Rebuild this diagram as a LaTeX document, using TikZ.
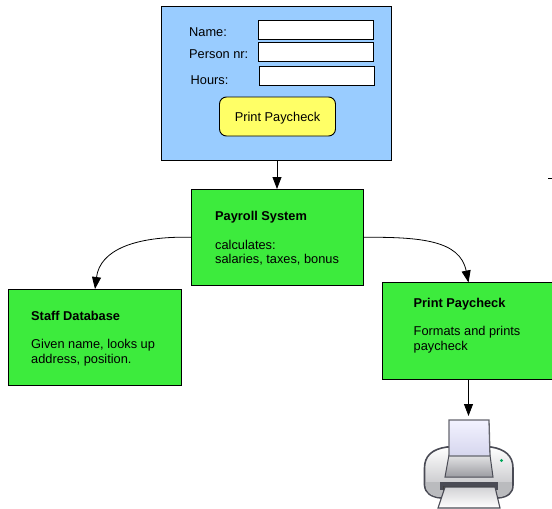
\documentclass[tikz,border=0pt]{standalone}
\usepackage{fontspec}
\setmainfont{Liberation Sans}
\usetikzlibrary{positioning,arrows.meta}
\definecolor{formblue}{HTML}{99CCFF}
\definecolor{boxgreen}{HTML}{3DEB3D}
\definecolor{btnyellow}{HTML}{FFFF66}
\definecolor{printergrey}{HTML}{4A4B55}
\tikzset{
  plainbox/.style={draw=black,line width=0.9pt,anchor=north west,inner sep=0pt,outer sep=0pt},
  formbox/.style={plainbox,fill=formblue,minimum width=230.5pt,minimum height=154pt},
  field/.style={plainbox,fill=white,minimum width=115.5pt,minimum height=19.5pt},
  btn/.style={plainbox,fill=btnyellow,rounded corners=7pt,minimum width=116pt,minimum height=39pt,anchor=center},
  compbox/.style={plainbox,fill=boxgreen,minimum height=96.5pt},
  lbl/.style={font=\fontsize{12.8}{14}\selectfont,inner sep=0pt},
  boxtext/.style={lbl,anchor=north west,align=left,font=\fontsize{12.8}{14.2}\selectfont},
  flow/.style={-{Triangle[length=12pt,width=9pt]},line width=0.8pt},
}
\begin{document}
\begin{tikzpicture}[x=1pt,y=-1pt]
  \useasboundingbox (0,0) rectangle (552,509);

  \node[formbox] (form) at (161,6.5) {};
  \node[field] (namefield) at (258,20) {};
  \node[field] (personfield) at (258,42) {};
  \node[field] (hoursfield) at (259,66) {};
  \node[lbl,anchor=west] (namelbl) at (189,32) {Name:};
  \node[lbl,anchor=west] (personlbl) at (189,54.5) {Person nr:};
  \node[lbl,anchor=west] (hourslbl) at (190.5,80) {Hours:};
  \node[btn] (printbtn) at (277.5,116.5) {\rule{0pt}{13pt}\fontsize{12.8}{14}\selectfont Print Paycheck};

  \node[compbox,minimum width=172.5pt] (payroll) at (191,189) {};
  \node[compbox,minimum width=173.5pt] (staff) at (8,289) {};
  \node[compbox,minimum width=176pt] (paybox) at (382,282.5) {};

  \node[boxtext,below right=22.5pt and 24pt of payroll.north west] (payrolltxt)
    {\textbf{Payroll System}\\[14.2pt]calculates:\\salaries, taxes, bonus};
  \node[boxtext,below right=22pt and 23pt of staff.north west] (stafftxt)
    {\textbf{Staff Database}\\[14.2pt]Given name, looks up\\address, position.};
  \node[boxtext,below right=15.5pt and 31.5pt of paybox.north west] (paytxt)
    {\textbf{Print Paycheck}\\[14.2pt]Formats and prints\\paycheck};

  \coordinate (printertop) at (468.5,416);
  \coordinate (tick) at (548,178);

  \draw[flow] (form.south -| 277,0) -- (payroll.north -| 277,0);
  \draw[flow] (payroll.west) .. controls (135,236) and (100,250) .. (staff.north -| 95,0);
  \draw[flow] (payroll.east) .. controls (420,237) and (460,240) .. (paybox.north -| 468.5,0);
  \draw[flow] (paybox.south -| 468.5,0) -- (printertop);
  \draw[line width=0.9pt] (tick) -- ++(5,0);

  % printer
  \draw[printergrey,line width=1.6pt,top color=white,bottom color=white!60!printergrey]
    (447,447) .. controls (432,449) and (424.5,456) .. (424.5,468)
    -- (424.5,485) .. controls (425,493) and (431,497) .. (441,498)
    -- (498,498) .. controls (508,497) and (513,493) .. (513,485)
    -- (513,468) .. controls (513,456) and (505,449) .. (491,447) -- cycle;
  \fill[white!62!printergrey] (426,482) -- (512,482) -- (511,490) .. controls (507,496) and (503,497) .. (498,497) -- (441,497) .. controls (433,497) and (428,494) .. (426,488) -- cycle;
  \draw[printergrey,line width=1pt,top color=white!85!printergrey,bottom color=white!45!printergrey]
    (449,455) -- (490,455) -- (493,477) -- (445,477) -- cycle;
  \draw[printergrey!85,line width=1.3pt,top color=white!95!blue,bottom color=white!90!blue!90!printergrey]
    (449,420) -- (489,420) -- (490,456) -- (449,456) -- cycle;
  \fill[printergrey] (440,482) -- (498,482) -- (498,490) -- (440,490) -- cycle;
  \fill[black!75] (443,486) rectangle (495,491);
  \draw[printergrey,line width=1.1pt,top color=white!75!printergrey,bottom color=white]
    (445,487) -- (495,487) -- (500,508) -- (438,508) -- cycle;
  \fill[teal!70!green] (501.5,460.5) circle (1.6);
\end{tikzpicture}
\end{document}
